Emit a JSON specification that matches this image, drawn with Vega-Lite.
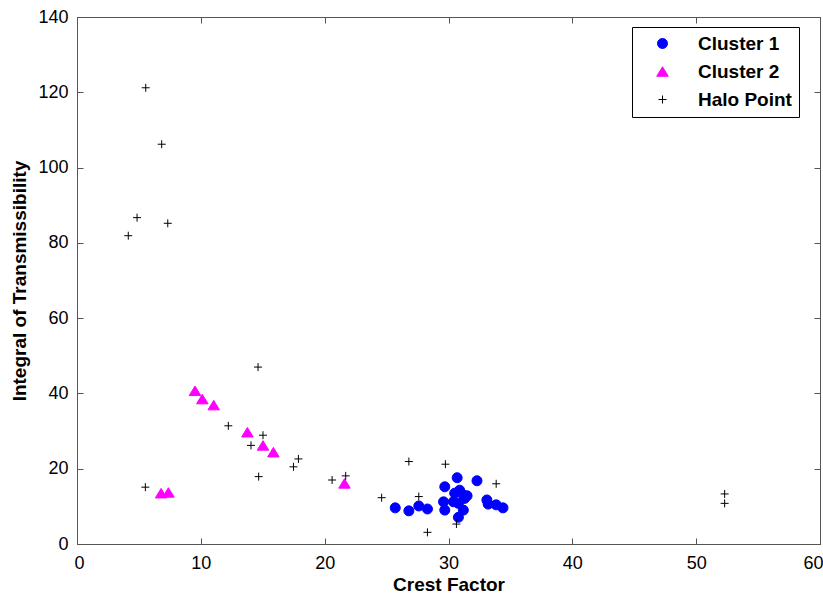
{
  "$schema": "https://vega.github.io/schema/vega-lite/v6.json",
  "autosize": {"type": "none"},
  "padding": {"left": 77, "top": 17, "right": 3, "bottom": 50},
  "width": 743,
  "height": 527,
  "background": "white",
  "config": {
    "font": "Liberation Sans",
    "view": {"stroke": "#555555", "strokeWidth": 1},
    "axis": {
      "grid": false,
      "domainColor": "#555555",
      "tickColor": "#555555",
      "labelFont": "Liberation Sans",
      "labelFontSize": 18,
      "labelColor": "black",
      "titleFont": "Liberation Sans",
      "titleFontSize": 19,
      "titleFontWeight": "bold",
      "titleColor": "black"
    },
    "legend": {
      "labelFont": "Liberation Sans",
      "labelFontSize": 19,
      "labelFontWeight": "bold",
      "labelColor": "black"
    }
  },
  "data": {
    "values": [
      {"cf": 25.7, "it": 9.6, "series": "Cluster 1"},
      {"cf": 26.8, "it": 8.8, "series": "Cluster 1"},
      {"cf": 27.6, "it": 10.1, "series": "Cluster 1"},
      {"cf": 28.3, "it": 9.3, "series": "Cluster 1"},
      {"cf": 29.7, "it": 15.2, "series": "Cluster 1"},
      {"cf": 30.7, "it": 17.6, "series": "Cluster 1"},
      {"cf": 32.3, "it": 16.8, "series": "Cluster 1"},
      {"cf": 29.6, "it": 11.2, "series": "Cluster 1"},
      {"cf": 29.7, "it": 9.0, "series": "Cluster 1"},
      {"cf": 30.9, "it": 14.3, "series": "Cluster 1"},
      {"cf": 31.2, "it": 13.0, "series": "Cluster 1"},
      {"cf": 31.3, "it": 12.1, "series": "Cluster 1"},
      {"cf": 30.8, "it": 10.8, "series": "Cluster 1"},
      {"cf": 31.2, "it": 9.0, "series": "Cluster 1"},
      {"cf": 30.8, "it": 7.1, "series": "Cluster 1"},
      {"cf": 30.5, "it": 13.5, "series": "Cluster 1"},
      {"cf": 30.4, "it": 11.2, "series": "Cluster 1"},
      {"cf": 31.5, "it": 12.8, "series": "Cluster 1"},
      {"cf": 33.1, "it": 11.7, "series": "Cluster 1"},
      {"cf": 33.2, "it": 10.6, "series": "Cluster 1"},
      {"cf": 33.85, "it": 10.4, "series": "Cluster 1"},
      {"cf": 34.4, "it": 9.6, "series": "Cluster 1"},
      {"cf": 9.53, "it": 40.7, "series": "Cluster 2"},
      {"cf": 10.12, "it": 38.5, "series": "Cluster 2"},
      {"cf": 11.04, "it": 36.9, "series": "Cluster 2"},
      {"cf": 13.76, "it": 29.7, "series": "Cluster 2"},
      {"cf": 15.02, "it": 26.2, "series": "Cluster 2"},
      {"cf": 15.86, "it": 24.4, "series": "Cluster 2"},
      {"cf": 21.6, "it": 16.1, "series": "Cluster 2"},
      {"cf": 6.79, "it": 13.5, "series": "Cluster 2"},
      {"cf": 7.38, "it": 13.7, "series": "Cluster 2"},
      {"cf": 5.55, "it": 121.2, "series": "Halo Point"},
      {"cf": 6.84, "it": 106.2, "series": "Halo Point"},
      {"cf": 4.85, "it": 86.7, "series": "Halo Point"},
      {"cf": 7.33, "it": 85.2, "series": "Halo Point"},
      {"cf": 4.14, "it": 81.9, "series": "Halo Point"},
      {"cf": 14.62, "it": 47.0, "series": "Halo Point"},
      {"cf": 12.22, "it": 31.4, "series": "Halo Point"},
      {"cf": 15.02, "it": 28.9, "series": "Halo Point"},
      {"cf": 14.05, "it": 26.2, "series": "Halo Point"},
      {"cf": 17.88, "it": 22.6, "series": "Halo Point"},
      {"cf": 17.48, "it": 20.5, "series": "Halo Point"},
      {"cf": 14.67, "it": 17.9, "series": "Halo Point"},
      {"cf": 5.52, "it": 15.1, "series": "Halo Point"},
      {"cf": 20.6, "it": 17.0, "series": "Halo Point"},
      {"cf": 21.7, "it": 18.1, "series": "Halo Point"},
      {"cf": 26.8, "it": 21.9, "series": "Halo Point"},
      {"cf": 29.75, "it": 21.2, "series": "Halo Point"},
      {"cf": 24.6, "it": 12.3, "series": "Halo Point"},
      {"cf": 27.6, "it": 12.6, "series": "Halo Point"},
      {"cf": 33.85, "it": 16.0, "series": "Halo Point"},
      {"cf": 30.64, "it": 5.3, "series": "Halo Point"},
      {"cf": 28.3, "it": 3.1, "series": "Halo Point"},
      {"cf": 52.3, "it": 13.3, "series": "Halo Point"},
      {"cf": 52.3, "it": 10.8, "series": "Halo Point"}
    ]
  },
  "layer": [
    {
      "mark": {"type": "point", "filled": true, "strokeWidth": 1, "opacity": 1, "size": 100},
      "encoding": {
        "x": {
          "field": "cf", "type": "quantitative",
          "scale": {"domain": [0, 60], "nice": false, "zero": false},
          "axis": {"values": [0, 10, 20, 30, 40, 50, 60], "tickSize": -6, "labelPadding": 16, "labelFlush": true, "labelFlushOffset": 3, "title": "Crest Factor", "titleBaseline": "alphabetic", "titleY": 46}
        },
        "y": {
          "field": "it", "type": "quantitative",
          "scale": {"domain": [0, 140], "nice": false, "zero": false},
          "axis": {"values": [0, 20, 40, 60, 80, 100, 120, 140], "tickSize": -6, "labelPadding": 15, "labelFlush": false, "title": "Integral of Transmissibility", "titleBaseline": "alphabetic", "titleX": -52, "titleY": 263.5}
        },
        "fill": {
          "field": "series", "type": "nominal",
          "scale": {"domain": ["Cluster 1", "Cluster 2", "Halo Point"], "range": ["#0000ff", "#ff00ff", "black"]},
          "legend": {
            "title": null, "orient": "none", "legendX": 555, "legendY": 10,
            "padding": 7, "rowPadding": 8, "strokeColor": "black", "fillColor": "white",
            "symbolSize": 100, "symbolOffset": 14, "labelOffset": 26, "symbolStrokeWidth": 1
          }
        },
        "stroke": {
          "field": "series", "type": "nominal",
          "scale": {"domain": ["Cluster 1", "Cluster 2", "Halo Point"], "range": ["#0000ff", "#ff00ff", "black"]}
        },
        "shape": {
          "field": "series", "type": "nominal",
          "scale": {"domain": ["Cluster 1", "Cluster 2", "Halo Point"], "range": ["circle", "M0,-0.95L-1.15,0.95L1.15,0.95Z", "M-0.8,0H0.8M0,-0.8V0.8"]}
        }
      }
    },
    {
      "mark": {"type": "point", "opacity": 0},
      "encoding": {
        "x": {
          "field": "cf", "type": "quantitative",
          "scale": {"domain": [0, 60], "nice": false, "zero": false},
          "axis": {"orient": "top", "values": [0, 10, 20, 30, 40, 50, 60], "tickSize": -6, "labels": false, "title": null}
        },
        "y": {
          "field": "it", "type": "quantitative",
          "scale": {"domain": [0, 140], "nice": false, "zero": false},
          "axis": {"orient": "right", "values": [0, 20, 40, 60, 80, 100, 120, 140], "tickSize": -6, "labels": false, "title": null}
        }
      }
    }
  ],
  "resolve": {"axis": {"x": "independent", "y": "independent"}}
}
